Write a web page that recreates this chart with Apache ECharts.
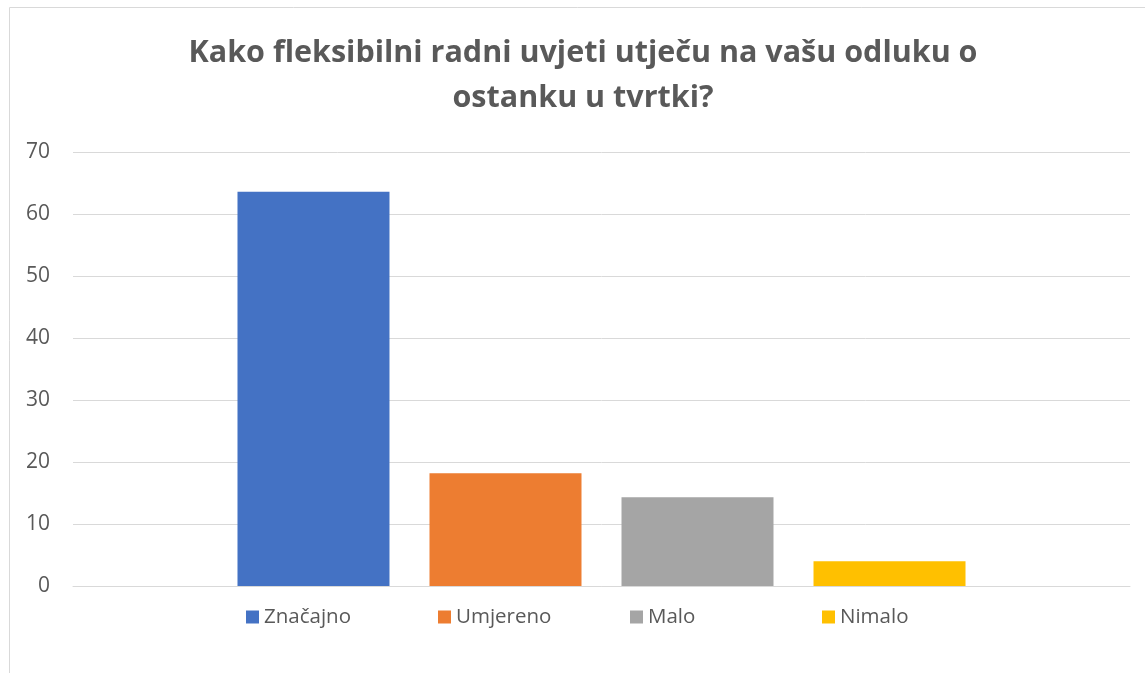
<!DOCTYPE html>
<html>
<head>
<meta charset="utf-8">
<script src="https://cdn.jsdelivr.net/npm/echarts@6/dist/echarts.min.js"></script>
<style>
html,body{margin:0;padding:0;background:#fff;}
#chart{width:1145px;height:673px;}
</style>
</head>
<body>
<div id="chart"></div>
<script>
const titleText = 'Kako fleksibilni radni uvjeti utječu na vašu odluku o\nostanku u tvrtki?';
const categories = [''];
const seriesNames = ['Značajno', 'Umjereno', 'Malo', 'Nimalo'];
const seriesValues = [63.6, 18.2, 14.3, 4.0];
const seriesColors = ['#4472c4', '#ed7d31', '#a5a5a5', '#ffc000'];
const yTicks = { min: 0, max: 70, interval: 10 };

const chart = echarts.init(document.getElementById('chart'));
const series = seriesNames.map((name, i) => ({
  name: name,
  type: 'bar',
  data: [seriesValues[i]],
  itemStyle: { color: seriesColors[i] },
  barWidth: 152,
  barGap: '26.32%'
}));

chart.setOption({
  animation: false,
  textStyle: { fontFamily: 'Open Sans' },
  graphic: [{
    type: 'rect',
    shape: { x: 9.5, y: 7.5, width: 1300, height: 800 },
    style: { fill: 'none', stroke: '#d9d9d9', lineWidth: 1 },
    silent: true
  }],
  title: {
    text: titleText,
    left: 583,
    textAlign: 'center',
    top: 31,
    padding: 0,
    textStyle: {
      fontFamily: 'Open Sans',
      fontSize: 30.5,
      fontWeight: 'bold',
      color: '#595959',
      lineHeight: 45
    }
  },
  legend: {
    data: seriesNames,
    left: 246,
    top: 606,
    padding: 0,
    itemWidth: 13,
    itemHeight: 13,
    itemGap: 0,
    icon: 'rect',
    textStyle: {
      fontFamily: 'Open Sans',
      fontSize: 20.5,
      color: '#595959',
      width: 174,
      lineHeight: 22
    }
  },
  grid: { left: 73, right: 15, top: 152, bottom: 87, containLabel: false },
  xAxis: {
    type: 'category',
    data: categories,
    axisLine: { lineStyle: { color: '#d9d9d9', width: 1 } },
    axisTick: { show: false },
    axisLabel: { show: false }
  },
  yAxis: {
    type: 'value',
    min: yTicks.min,
    max: yTicks.max,
    interval: yTicks.interval,
    axisLine: { show: false },
    axisTick: { show: false },
    splitLine: { lineStyle: { color: '#d9d9d9', width: 1 } },
    axisLabel: {
      fontFamily: 'Open Sans',
      fontSize: 21,
      color: '#595959',
      margin: 23
    }
  },
  series: series
});
</script>
</body>
</html>
